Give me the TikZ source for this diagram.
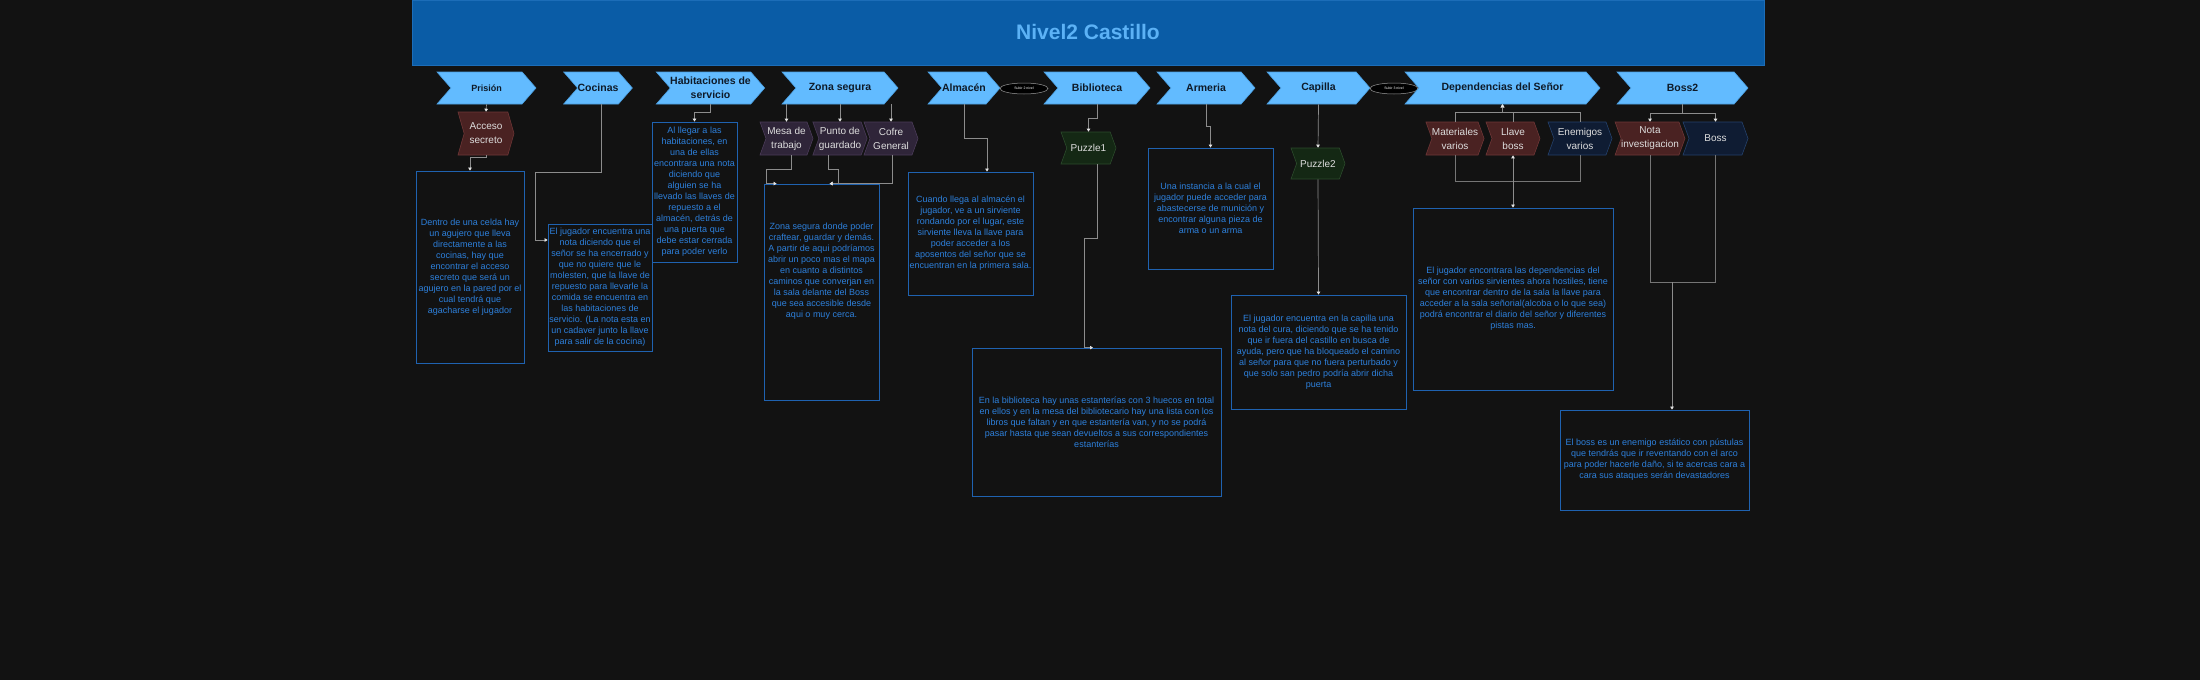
\documentclass[tikz,border=0pt]{standalone}
\usepackage{fontspec}
\setmainfont{Liberation Sans}
\usepackage{tikz}
\usetikzlibrary{arrows.meta, positioning, shapes.geometric, shapes.symbols, calc}

\definecolor{bgcol}{HTML}{121212}
\definecolor{barcol}{HTML}{0A5CA6}
\definecolor{baredge}{HTML}{1C6DB8}
\definecolor{titlecol}{HTML}{5CB2F6}
\definecolor{hdrfill}{HTML}{62BBFF}
\definecolor{hdredge}{HTML}{4A9EE0}
\definecolor{hdrtext}{HTML}{0E1A28}
\definecolor{redfill}{HTML}{4A2222}
\definecolor{rededge}{HTML}{6E3636}
\definecolor{purfill}{HTML}{2F2539}
\definecolor{puredge}{HTML}{4A3B58}
\definecolor{grnfill}{HTML}{142814}
\definecolor{grnedge}{HTML}{2B4A2B}
\definecolor{navfill}{HTML}{0F1C33}
\definecolor{navedge}{HTML}{24406A}
\definecolor{subtext}{HTML}{DDDDDD}
\definecolor{notedge}{HTML}{1F62B0}
\definecolor{notetext}{HTML}{2D80DC}
\definecolor{linkgray}{HTML}{8C8C8C}
\definecolor{tipcol}{HTML}{E6E6E6}

\begin{document}
\begin{tikzpicture}[x=1pt, y=-1pt]
            % Define styles
            \tikzstyle{stage} = [signal, signal from=west, signal to=east, signal pointer angle=98, fill=hdrfill, draw=hdredge, line width=0.6pt, minimum height=32pt, inner sep=0pt, align=center, text=hdrtext, font=\bfseries\fontsize{10.5}{13.7}\selectfont]
            \tikzstyle{item} = [signal, signal from=west, signal to=east, signal pointer angle=140, line width=0.6pt, minimum height=33pt, inner sep=0pt, align=center, text=subtext, font=\fontsize{10}{14}\selectfont]
            \tikzstyle{note} = [rectangle, draw=notedge, line width=0.8pt, inner sep=0pt, align=center, text=notetext, font=\fontsize{9}{11}\selectfont]
            \tikzstyle{levelup} = [ellipse, draw=gray!80, fill=black, line width=0.5pt, minimum width=48pt, minimum height=11pt, inner sep=0pt, text=white, font=\fontsize{3.5}{4}\selectfont]
            \tikzstyle{link} = [draw=linkgray, line width=0.7pt, -{Triangle[length=3pt, width=3.5pt, color=tipcol]}]
            \tikzstyle{group} = [draw=linkgray!120, line width=0.7pt]

            % Background and title bar
            \fill[bgcol] (0,0) rectangle (2200,680);
            \useasboundingbox (0,0) rectangle (2200,680);
            \node[fill=barcol, draw=baredge, minimum width=1352pt, minimum height=65pt, inner sep=0pt] (bar) at (1088,32.5) {};
            \node[text=titlecol, font=\bfseries\fontsize{21}{24}\selectfont] (title) at (1088,32) {Nivel2 Castillo};

            % Stage headers
            \node[stage, minimum width=99pt, font=\bfseries\fontsize{9}{11}\selectfont] (prisHdr) at (486.5,88) {Prisión};
            \node[stage, minimum width=68pt] (cocHdr) at (598,88) {Cocinas};
            \node[stage, minimum width=99pt] (habHdr) at (710.5,88) {Habitaciones de\\servicio};
            \node[stage, minimum width=116pt] (zonaHdr) at (840,88) {Zona segura};
            \node[stage, minimum width=72pt] (almHdr) at (964,88) {Almacén};
            \node[levelup] (sube2) at (1024,88.5) {Subir 2 nivel};
            \node[stage, minimum width=106pt] (bibHdr) at (1097,88) {Biblioteca};
            \node[stage, minimum width=98pt] (armHdr) at (1206,88) {Armeria};
            \node[stage, minimum width=103pt] (capHdr) at (1318.5,88) {Capilla};
            \node[levelup] (sube3) at (1394,88.5) {Subir 3 nivel};
            \node[stage, minimum width=195pt] (depHdr) at (1502.5,88) {Dependencias del Señor};
            \node[stage, minimum width=131pt] (bossHdr) at (1682.5,88) {Boss2};

            % Sub items
            \node[item, fill=redfill, draw=rededge, minimum width=56pt, minimum height=43pt, signal pointer angle=148] (acceso) at (486,133.5) {Acceso\\secreto};
            \node[item, fill=purfill, draw=puredge, minimum width=53pt] (mesa) at (786.5,138.5) {Mesa de\\trabajo};
            \node[item, fill=purfill, draw=puredge, minimum width=54pt] (punto) at (840,138.5) {Punto de\\guardado};
            \node[item, fill=purfill, draw=puredge, minimum width=54pt] (cofre) at (891,138.5) {Cofre\\General};
            \node[item, fill=grnfill, draw=grnedge, minimum width=55pt, minimum height=32pt] (puzzle1) at (1088.5,148) {Puzzle1};
            \node[item, fill=grnfill, draw=grnedge, minimum width=54pt, minimum height=31pt] (puzzle2) at (1318,163.5) {Puzzle2};
            \node[item, fill=redfill, draw=rededge, minimum width=54pt] (matVar) at (1455,138.5) {Materiales\\varios};
            \node[item, fill=redfill, draw=rededge, minimum width=54pt] (llave) at (1513,138.5) {Llave\\boss};
            \node[item, fill=navfill, draw=navedge, minimum width=64pt] (eneVar) at (1580,138.5) {Enemigos\\varios};
            \node[item, fill=redfill, draw=rededge, minimum width=68pt] (notaInv) at (1650,138.5) {Nota\\investigacion};
            \node[item, fill=navfill, draw=navedge, minimum width=65pt] (bossSub) at (1715.5,138.5) {Boss};

            % Description boxes
            \node[note, minimum width=108pt, minimum height=192pt] (prisBox) at (470,267) {Dentro de una celda hay\\un agujero que lleva\\directamente a las\\cocinas, hay que\\encontrar el acceso\\secreto que será un\\agujero en la pared por el\\cual tendrá que\\agacharse el jugador};
            \node[note, minimum width=104pt, minimum height=127pt] (cocBox) at (600,287.5) {El jugador encuentra una\\nota diciendo que el\\señor se ha encerrado y\\que no quiere que le\\molesten, que la llave de\\repuesto para llevarle la\\comida se encuentra en\\las habitaciones de\\servicio. (La nota esta en\\un cadaver junto la llave\\para salir de la cocina)};
            \node[note, minimum width=85pt, minimum height=140pt] (habBox) at (694.5,192) {Al llegar a las\\habitaciones, en\\una de ellas\\encontrara una nota\\diciendo que\\alguien se ha\\llevado las llaves de\\repuesto a el\\almacén, detrás de\\una puerta que\\debe estar cerrada\\para poder verlo};
            \node[note, minimum width=115pt, minimum height=216pt] (zonaBox) at (821.5,292) {};
            \node[note, draw=none] (zonaTxt) at ([yshift=21pt]zonaBox.center) {Zona segura donde poder\\craftear, guardar y demás.\\A partir de aqui podríamos\\abrir un poco mas el mapa\\en cuanto a distintos\\caminos que converjan en\\la sala delante del Boss\\que sea accesible desde\\aqui o muy cerca.};
            \node[note, minimum width=125pt, minimum height=123pt] (almBox) at (970.5,233.5) {Cuando llega al almacén el\\jugador, ve a un sirviente\\rondando por el lugar, este\\sirviente lleva la llave para\\poder acceder a los\\aposentos del señor que se\\encuentran en la primera sala.};
            \node[note, minimum width=249pt, minimum height=148pt] (bibBox) at (1096.5,422) {En la biblioteca hay unas estanterías con 3 huecos en total\\en ellos y en la mesa del bibliotecario hay una lista con los\\libros que faltan y en que estantería van, y no se podrá\\pasar hasta que sean devueltos a sus correspondientes\\estanterías};
            \node[note, minimum width=125pt, minimum height=121pt] (armBox) at (1210.5,208.5) {Una instancia a la cual el\\jugador puede acceder para\\abastecerse de munición y\\encontrar alguna pieza de\\arma o un arma};
            \node[note, minimum width=175pt, minimum height=114pt] (capBox) at (1318.5,352) {El jugador encuentra en la capilla una\\nota del cura, diciendo que se ha tenido\\que ir fuera del castillo en busca de\\ayuda, pero que ha bloqueado el camino\\al señor para que no fuera perturbado y\\que solo san pedro podría abrir dicha\\puerta};
            \node[note, minimum width=200pt, minimum height=182pt] (depBox) at (1513,299) {El jugador encontrara las dependencias del\\señor con varios sirvientes ahora hostiles, tiene\\que encontrar dentro de la sala la llave para\\acceder a la sala señorial(alcoba o lo que sea)\\podrá encontrar el diario del señor y diferentes\\pistas mas.};
            \node[note, minimum width=189pt, minimum height=100pt] (bossBox) at (1654.5,460) {El boss es un enemigo estático con pústulas\\que tendrás que ir reventando con el arco\\para poder hacerle daño, si te acercas cara a\\cara sus ataques serán devastadores};

            % Connections
            \draw[link] (prisHdr.south) -- (acceso.north);
            \draw[link] (acceso.south) -- ++(0,2) -| (prisBox.north);

            \draw[link] ([xshift=3pt]cocHdr.south) -- ++(0,68) -| ([xshift=-12pt, yshift=47.5pt]cocBox.west) -- ([yshift=47.5pt]cocBox.west);

            \draw[link] (habHdr.south) -- ++(0,8) -| (habBox.north);

            % Zona segura items
            \draw[link] (mesa.north |- zonaHdr.south) -- (mesa.north);
            \draw[link] (zonaHdr.south) -- (punto.north);
            \draw[link] (cofre.north |- zonaHdr.south) -- (cofre.north);
            \draw[link] ([xshift=4.5pt]mesa.south) -- ++(0,14) -| ([xshift=3pt]zonaBox.north west) -- ([xshift=13pt]zonaBox.north west);
            \draw[link] ([xshift=-12pt]punto.south) -- ++(0,14) -| ([xshift=75pt]zonaBox.north west) -- ([xshift=66pt]zonaBox.north west);
            \draw[link] ([xshift=1pt]cofre.south) |- ([xshift=66pt]zonaBox.north west);

            \draw[link] (almHdr.south) -- ++(0,34) -| ([xshift=16.5pt]almBox.north);

            \draw[link] (bibHdr.south) -- ++(0,14) -| (puzzle1.north);
            \draw[link] ([xshift=8.5pt]puzzle1.south) -- ++(0,74) -| ([xshift=-12.5pt]bibBox.north) -- ([xshift=-3.5pt]bibBox.north);

            \draw[link] (armHdr.south) -- ++(0,22) -| (armBox.north);

            \draw[link] (capHdr.south) -- (puzzle2.north);
            \draw[link] (puzzle2.south) -- (capBox.north);

            % Dependencias group
            \draw[link] (matVar.north) -- ++(0,-9) -| (depHdr.south);
            \draw[link] (llave.north) -- ++(0,-9) -| (depHdr.south);
            \draw[link] (eneVar.north) -- ++(0,-9) -| (depHdr.south);
            \draw[group] (matVar.south) -- ++(0,26) -| (eneVar.south);
            \draw[link, {Triangle[length=3pt, width=3.5pt, color=tipcol]}-{Triangle[length=3pt, width=3.5pt, color=tipcol]}] (llave.south) -- (llave.south |- depBox.north);

            % Boss group
            \draw[link] (bossHdr.south) -- ++(0,9) -| (notaInv.north);
            \draw[link] (bossHdr.south) -- ++(0,9) -| (bossSub.north);
            \draw[group] (notaInv.south) -- ++(0,127) -| (bossSub.south);
            \coordinate (bossJoin) at (1672,282);
            \draw[link] (bossJoin) -- (bossJoin |- bossBox.north);
        \end{tikzpicture}
\end{document}
